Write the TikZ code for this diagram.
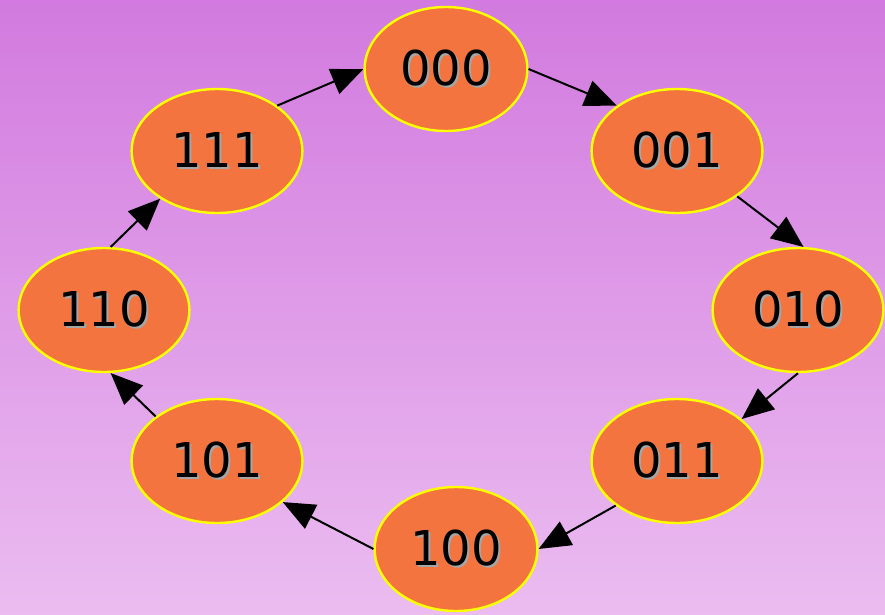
\documentclass[tikz,border=0pt]{standalone}
\usepackage{fontspec}
\setmainfont{DejaVu Sans}
\usetikzlibrary{shapes.geometric,arrows.meta}
\definecolor{bgtop}{HTML}{D27ADF}
\definecolor{bgbottom}{HTML}{EBBCF0}
\definecolor{statefill}{HTML}{F3743F}
\definecolor{stateline}{HTML}{FFFF00}
\newcommand{\shadowed}[1]{\rlap{\kern1.5pt\raisebox{-1.5pt}{\color{black!35}#1}}#1}

\begin{document}
\begin{tikzpicture}[x=0.75pt,y=-0.75pt,
	state/.style={ellipse, draw=stateline, line width=1.8pt, fill=statefill, minimum width=128pt, minimum height=93pt, inner sep=0pt, font=\fontsize{36}{40}\selectfont},
	narrow/.style={minimum width=122pt},
	edge/.style={draw=black, line width=1.5pt, -{Triangle[length=24pt,width=20pt]}}]
	\shade[top color=bgtop, bottom color=bgbottom] (0,0) rectangle (885,614);
	\node (S000) at (446,  69)	[state, narrow]	{\shadowed{000}};
	\node (S001) at (677, 151)	[state]	{\shadowed{001}};
	\node (S010) at (798, 310)	[state]	{\shadowed{010}};
	\node (S011) at (677, 461)	[state]	{\shadowed{011}};
	\node (S100) at (456, 549)	[state, narrow]	{\shadowed{100}};
	\node (S101) at (217, 461)	[state]	{\shadowed{101}};
	\node (S110) at (104, 310)	[state]	{\shadowed{110}};
	\node (S111) at (217, 151)	[state]	{\shadowed{111}};
	\draw[edge] (S000.east) -- (S001.143);
	\draw[edge] (S001.-37) -- (S010.85);
	\draw[edge] (S010.south) -- (S011.33);
	\draw[edge] (S011.216) -- (S100.east);
	\draw[edge] (S100.west) -- (S101.-32);
	\draw[edge] (S101.144) -- (S110.-84);
	\draw[edge] (S110.84) -- (S111.220);
	\draw[edge] (S111.37) -- (S000.west);
\end{tikzpicture}
\end{document}
